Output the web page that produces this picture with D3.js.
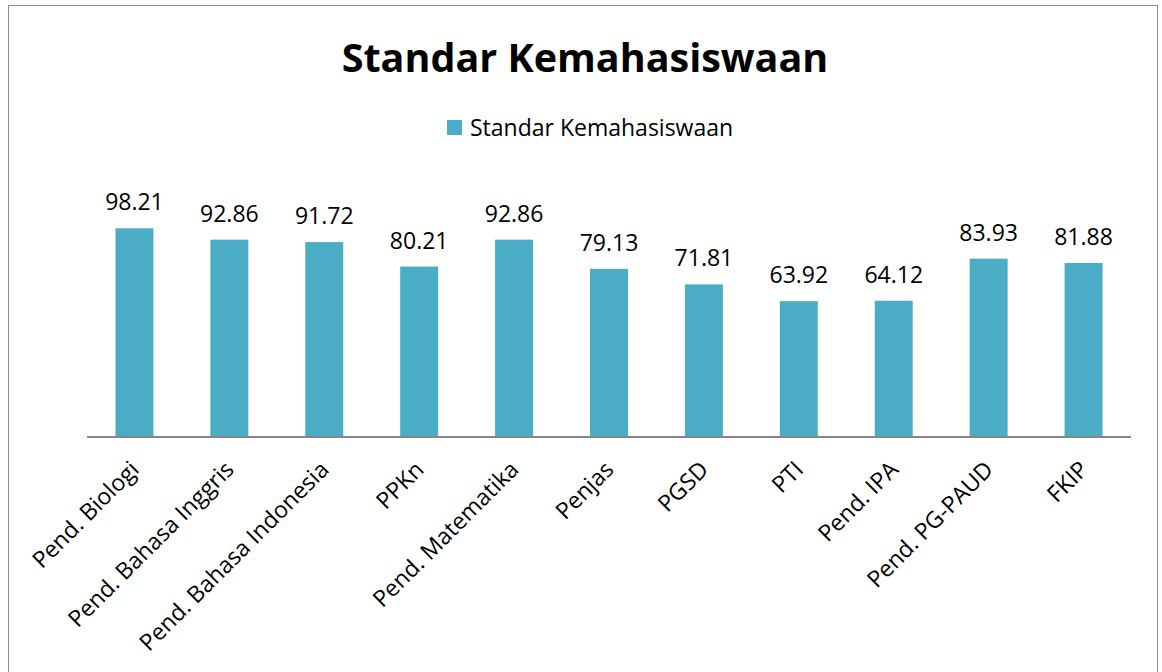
<!DOCTYPE html>
<html>
<head>
<meta charset="utf-8">
<script src="https://cdn.jsdelivr.net/npm/d3@7"></script>
<style>
  body { margin: 0; background: #fff; }
  text { font-family: "Open Sans", sans-serif; fill: #000; }
</style>
</head>
<body>
<div id="chart"></div>
<script>
// data
const categories = ["Pend. Biologi", "Pend. Bahasa Inggris", "Pend. Bahasa Indonesia", "PPKn",
  "Pend. Matematika", "Penjas", "PGSD", "PTI", "Pend. IPA", "Pend. PG-PAUD", "FKIP"];
const values = [98.21, 92.86, 91.72, 80.21, 92.86, 79.13, 71.81, 63.92, 64.12, 83.93, 81.88];
const seriesName = "Standar Kemahasiswaan";
const chartTitle = "Standar Kemahasiswaan";

const W = 1162, H = 672;
const plot = {left: 87, right: 1131, top: 182, bottom: 437};

const svg = d3.select("#chart").append("svg")
  .attr("width", W)
  .attr("height", H);

// frame
svg.append("rect")
  .attr("x", 8.5).attr("y", 5.5)
  .attr("width", 1149).attr("height", 700)
  .attr("fill", "none")
  .attr("stroke", "#8c8c8c")
  .attr("stroke-width", 1);

// scales
const x = d3.scaleBand()
  .domain(categories)
  .range([plot.left, plot.right])
  .paddingInner(0.6)
  .paddingOuter(0.3);

const y = d3.scaleLinear()
  .domain([0, 120])
  .range([plot.bottom, plot.top]);

// title
svg.append("text")
  .attr("x", 585)
  .attr("y", 72)
  .attr("text-anchor", "middle")
  .attr("font-weight", "bold")
  .attr("font-size", 39.5)
  .text(chartTitle);

// legend
const legend = svg.append("g").attr("transform", "translate(447,120)");
legend.append("rect")
  .attr("width", 15).attr("height", 15)
  .attr("fill", "#4BACC6");
legend.append("text")
  .attr("x", 23).attr("y", 16)
  .attr("font-size", 23)
  .text(seriesName);

// bars
svg.selectAll(".bar")
  .data(values)
  .join("rect")
  .attr("class", "bar")
  .attr("x", (d, i) => x(categories[i]))
  .attr("y", d => y(d))
  .attr("width", x.bandwidth())
  .attr("height", d => y(0) - y(d))
  .attr("fill", "#4BACC6");

// value labels
svg.selectAll(".val")
  .data(values)
  .join("text")
  .attr("class", "val")
  .attr("x", (d, i) => x(categories[i]) + x.bandwidth() / 2)
  .attr("y", d => y(d) - 18)
  .attr("text-anchor", "middle")
  .attr("font-size", 23)
  .text(d => d.toFixed(2));

// x axis
const xAxis = svg.append("g")
  .attr("transform", "translate(0," + plot.bottom + ")")
  .call(d3.axisBottom(x).tickSize(0).tickPadding(0));

xAxis.select(".domain").attr("stroke", "#868686").attr("stroke-width", 2)
  .attr("d", "M" + plot.left + ",0H" + plot.right);

xAxis.selectAll(".tick text")
  .attr("font-size", 23)
  .attr("font-family", "Open Sans, sans-serif")
  .attr("fill", "#000")
  .attr("text-anchor", "end")
  .attr("dy", 0)
  .attr("transform", "translate(6,34) rotate(-45)");
</script>
</body>
</html>
